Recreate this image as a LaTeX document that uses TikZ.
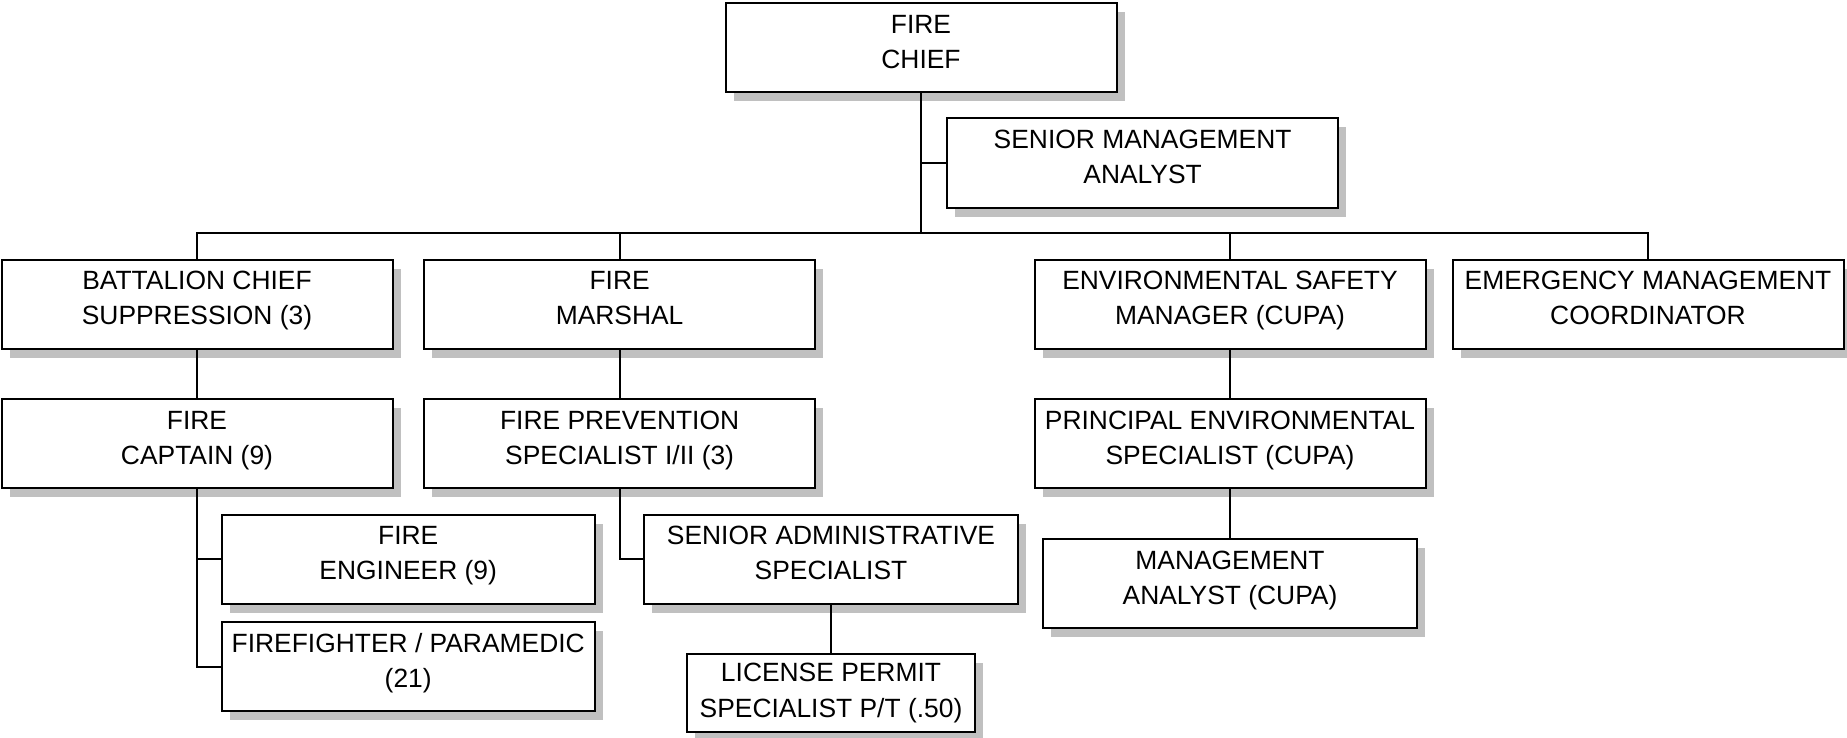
\documentclass[tikz,border=0pt]{standalone}
\usepackage{fontspec}
\setmainfont{Liberation Sans}
\usepackage{tikz}
\usetikzlibrary{shadows}
\definecolor{boxshadow}{RGB}{192, 192, 192}

\begin{document}
\begin{tikzpicture}[x=0.5pt, y=-0.5pt,
    box/.style={draw, line width=1pt, fill=white, align=center, inner sep=1pt,
        minimum width=195.5pt, minimum height=44.5pt,
        font=\fontsize{13.2}{17.6}\selectfont,
        drop shadow={shadow xshift=4pt, shadow yshift=-4.5pt, fill=boxshadow, opacity=1}},
    post/.style={box, execute at end node={\rule[-6pt]{0pt}{6pt}}},
    subpost/.style={post, minimum width=186.7pt},
    link/.style={line width=1pt}]
    \useasboundingbox (0,0) rectangle (1847,738);

    \node[post] (chief) at (921,48) {FIRE\\CHIEF};
    \node[post] (sma) at (1142.6,163) {SENIOR MANAGEMENT\\ANALYST};

    \node[post] (bc) at (197,304) {BATTALION CHIEF\\SUPPRESSION (3)};
    \node[post] (fm) at (619.6,304) {FIRE\\MARSHAL};
    \node[post] (esm) at (1230,304) {ENVIRONMENTAL SAFETY\\MANAGER (CUPA)};
    \node[post] (emc) at (1648,304) {EMERGENCY MANAGEMENT\\COORDINATOR};

    \node[post] (cap) at (197,443.7) {FIRE\\CAPTAIN (9)};
    \node[post] (fps) at (619.6,443.7) {FIRE PREVENTION\\SPECIALIST I/II (3)};
    \node[post] (pes) at (1230,443.7) {PRINCIPAL ENVIRONMENTAL\\SPECIALIST (CUPA)};

    \node[subpost] (eng) at (408.2,559) {FIRE\\ENGINEER (9)};
    \node[subpost] (ff) at (408.2,666.5) {FIREFIGHTER / PARAMEDIC\\(21)};
    \node[subpost] (sas) at (831,559) {SENIOR ADMINISTRATIVE\\SPECIALIST};
    \node[subpost] (ma) at (1230,583.7) {MANAGEMENT\\ANALYST (CUPA)};
    \node[box, minimum width=143.75pt, minimum height=39pt,
        execute at begin node={\rule{0pt}{12pt}}] (lps) at (831,693) {LICENSE PERMIT\\SPECIALIST P/T (.50)};

    \coordinate (bus) at (921,233);
    \draw[link] (chief.south) -- (chief.south |- bus);
    \draw[link] (sma.west) -- (sma.west -| chief.south);
    \draw[link] (bc.north) -- (bc.north |- bus) -- (emc.north |- bus) -- (emc.north);
    \draw[link] (fm.north) -- (fm.north |- bus);
    \draw[link] (esm.north) -- (esm.north |- bus);

    \draw[link] (bc.south) -- (cap.north);
    \draw[link] (cap.south) |- (ff.west);
    \draw[link] (eng.west) -- (eng.west -| cap.south);
    \draw[link] (fm.south) -- (fps.north);
    \draw[link] (fps.south) |- (sas.west);
    \draw[link] (sas.south) -- (lps.north);
    \draw[link] (esm.south) -- (pes.north);
    \draw[link] (pes.south) -- (ma.north);
\end{tikzpicture}
\end{document}
